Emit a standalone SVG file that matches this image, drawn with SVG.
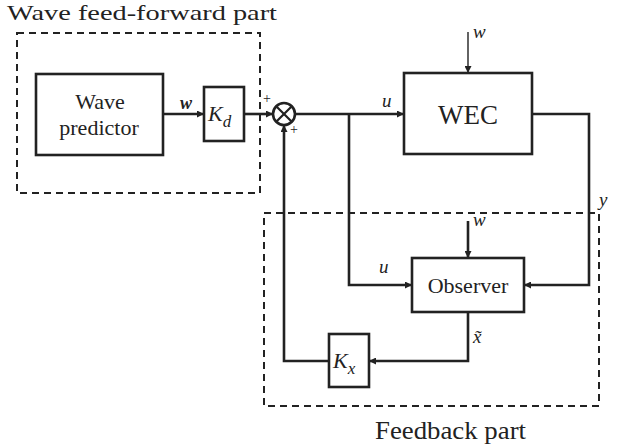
<svg xmlns="http://www.w3.org/2000/svg" width="619" height="448" viewBox="0 0 619 448">
<defs>
<style>
text{font-family:'Liberation Serif',serif;fill:#222}
.i{font-style:italic}
.box{fill:#fff;stroke:#222;stroke-width:2.6}
.ln{fill:none;stroke:#222;stroke-width:2.6}
.thin{fill:none;stroke:#222;stroke-width:1.4}
.dash{fill:none;stroke:#222;stroke-width:2;stroke-dasharray:7 5}
</style>
<marker id="ah" viewBox="0 0 10 10" refX="10" refY="5" markerWidth="8" markerHeight="7" markerUnits="userSpaceOnUse" orient="auto">
<path d="M0,0 L10,5 L0,10 z" fill="#222"/>
</marker>
</defs>
<rect width="619" height="448" fill="#fff"/>

<g id="groups">
<rect class="dash" x="17" y="33" width="243" height="160"/>
<text x="7" y="20" font-size="22" textLength="270" lengthAdjust="spacingAndGlyphs">Wave feed-forward part</text>
<rect class="dash" x="264" y="213" width="335" height="193"/>
<text x="375" y="439" font-size="25" textLength="151" lengthAdjust="spacingAndGlyphs">Feedback part</text>
</g>

<g id="connectors">
<path class="ln" d="M163,114 H204" marker-end="url(#ah)"/>
<path class="ln" d="M244,114 H273" marker-end="url(#ah)"/>
<path class="ln" d="M295,114 H404" marker-end="url(#ah)"/>
<path class="thin" d="M468,32 V73" marker-end="url(#ah)"/>
<path class="ln" d="M532,114 H589 V285 H524" marker-end="url(#ah)"/>
<path class="ln" d="M349,114 V285 H412" marker-end="url(#ah)"/>
<path class="ln" d="M468,221 V258" marker-end="url(#ah)"/>
<path class="ln" d="M468,312 V361 H369" marker-end="url(#ah)"/>
<path class="ln" d="M329,361 H284 V125" marker-end="url(#ah)"/>
<text class="i" x="180" y="109" font-size="18" font-weight="bold">w</text>
<text x="263" y="103" font-size="14">+</text>
<text x="290" y="134" font-size="14">+</text>
<text class="i" x="382" y="107" font-size="19">u</text>
<text class="i" x="473" y="38" font-size="19">w</text>
<text class="i" x="599" y="206" font-size="19">y</text>
<text class="i" x="473" y="226" font-size="19">w</text>
<text class="i" x="379" y="273" font-size="19">u</text>
<text class="i" x="473" y="343" font-size="19">x̃</text>
</g>

<g id="wave-predictor">
<rect class="box" x="36" y="74" width="127" height="81"/>
<text x="100" y="109" font-size="22" text-anchor="middle">Wave</text>
<text x="99" y="135" font-size="22" text-anchor="middle">predictor</text>
</g>

<g id="Kd">
<rect class="box" x="204" y="87" width="40" height="54"/>
<text class="i" x="208" y="121" font-size="22">K<tspan font-size="17" dy="6">d</tspan></text>
</g>

<g id="sum">
<circle cx="284" cy="114" r="11" fill="#fff" stroke="#222" stroke-width="2.6"/>
<path d="M276.2,106.2 L291.8,121.8 M291.8,106.2 L276.2,121.8" stroke="#222" stroke-width="2.2"/>
</g>

<g id="WEC">
<rect class="box" x="404" y="73" width="128" height="81"/>
<text x="468" y="124" font-size="27" text-anchor="middle">WEC</text>
</g>

<g id="observer">
<rect class="box" x="412" y="258" width="112" height="54"/>
<text x="468" y="293" font-size="22" text-anchor="middle">Observer</text>
</g>

<g id="Kx">
<rect class="box" x="329" y="334" width="40" height="53"/>
<text class="i" x="333" y="368" font-size="22">K<tspan font-size="17" dy="6">x</tspan></text>
</g>
</svg>
